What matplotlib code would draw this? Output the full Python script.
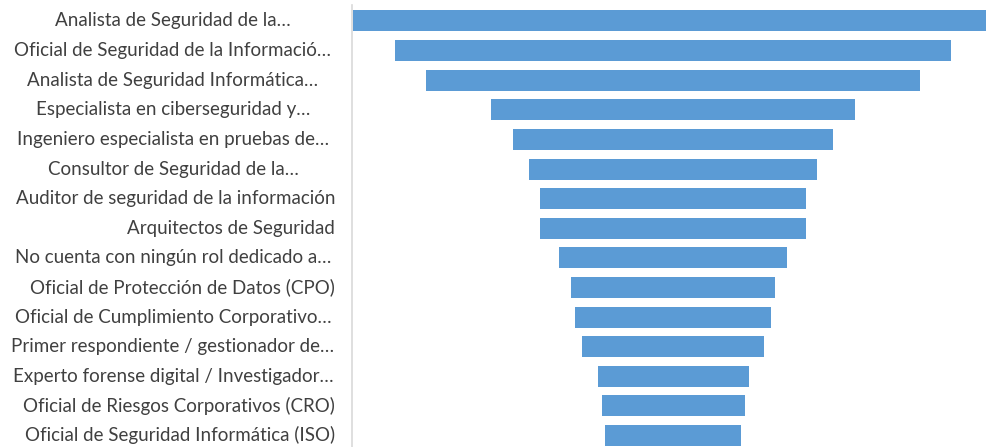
import matplotlib
matplotlib.use("Agg")
import matplotlib.pyplot as plt

# Roles (top to bottom) and their share values
roles = [
    "Analista de Seguridad de la…",
    "Oficial de Seguridad de la Informació…",
    "Analista de Seguridad Informática…",
    "Especialista en ciberseguridad y…",
    "Ingeniero especialista en pruebas de…",
    "Consultor de Seguridad de la…",
    "Auditor de seguridad de la información",
    "Arquitectos de Seguridad",
    "No cuenta con ningún rol dedicado a…",
    "Oficial de Protección de Datos (CPO)",
    "Oficial de Cumplimiento Corporativo…",
    "Primer respondiente / gestionador de…",
    "Experto forense digital / Investigador…",
    "Oficial de Riesgos Corporativos (CRO)",
    "Oficial de Seguridad Informática (ISO)",
]
values = [64.0, 55.6, 49.4, 36.4, 32.0, 28.8, 26.6, 26.6, 22.8, 20.4, 19.6, 18.2, 15.1, 14.3, 13.6]

W, H = 986, 447
fig = plt.figure(figsize=(W / 100, H / 100), dpi=100)
fig.patch.set_facecolor("white")

ax_left, ax_top, ax_bottom = 352, 5, 447
ax_w = W - ax_left
ax = fig.add_axes([ax_left / W, 1 - ax_bottom / H, ax_w / W, (ax_bottom - ax_top) / H])

ypos = list(range(len(roles)))
lefts = [-v / 2 for v in values]
ax.barh(ypos, values, left=lefts, height=0.71, color="#5B9BD5", edgecolor="none")

ax.set_xlim(-32.1, 31.3)
ax.set_ylim(14.39, -0.54)
ax.set_xticks([])
ax.set_yticks([])

# Category labels: shortened (wrapped) labels are centred in the label box,
# full labels are right-aligned against the axis
label_tr = ax.get_yaxis_transform()
x_right = (335 - ax_left) / ax_w
x_center = (173 - ax_left) / ax_w
for y, name in zip(ypos, roles):
    if name.endswith("…"):
        ax.text(x_center, y, name, ha="center", va="center", transform=label_tr,
                fontsize=13.5, color="#404040", family=["Lato", "DejaVu Sans"], clip_on=False)
    else:
        ax.text(x_right, y, name, ha="right", va="center", transform=label_tr,
                fontsize=13.5, color="#404040", family=["Lato", "DejaVu Sans"], clip_on=False)

for side in ["top", "right", "bottom"]:
    ax.spines[side].set_visible(False)
ax.spines["left"].set_color("#D9D9D9")
ax.spines["left"].set_linewidth(1.2)

fig.savefig("out.png", dpi=100, facecolor="white")
